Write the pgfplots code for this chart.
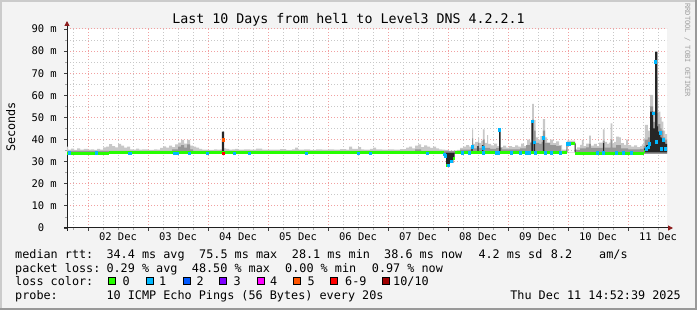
\documentclass[border=0pt]{standalone}
\usepackage{fontspec}
\setmainfont{DejaVu Sans Mono}
\usepackage{pgfplots}
\pgfplotsset{compat=1.18}
\usetikzlibrary{arrows.meta}
\definecolor{bgc}{HTML}{F3F3F3}
\definecolor{shadeA}{HTML}{CBCBCB}
\definecolor{shadeB}{HTML}{999999}
\definecolor{gridc}{HTML}{C8C8C8}
\definecolor{mgridc}{HTML}{F2A0A0}
\definecolor{axisc}{HTML}{202020}
\definecolor{arrowc}{HTML}{8C1C1C}
\definecolor{smokeL}{HTML}{C8C8C8}
\definecolor{smokeD}{HTML}{969696}
\definecolor{smokeB}{HTML}{262626}
\definecolor{wmark}{HTML}{A0A0A0}
\definecolor{lossA}{HTML}{26FF00}
\definecolor{lossB}{HTML}{00B8FF}
\definecolor{lossC}{HTML}{0059FF}
\definecolor{lossD}{HTML}{7E00FF}
\definecolor{lossE}{HTML}{FF00FF}
\definecolor{lossF}{HTML}{FF5500}
\definecolor{lossG}{HTML}{FF0000}
\definecolor{lossH}{HTML}{A00000}
\newcommand\tickfont{\fontsize{10.5bp}{12bp}\selectfont}
\newcommand\legfont{\fontsize{11.8bp}{14bp}\selectfont}
\newcommand\titfont{\fontsize{13.3bp}{16bp}\selectfont}
\newcommand\wmfont{\fontsize{7.1bp}{8bp}\selectfont}
\begin{document}
\frenchspacing
\begin{tikzpicture}
% background and frame
\fill[bgc] (0,0) rectangle (697bp,310bp);
\fill[shadeA] (0,2bp) rectangle (2bp,310bp);
\fill[shadeA] (0,308bp) rectangle (695bp,310bp);
\fill[shadeB] (0,0) rectangle (697bp,2bp);
\fill[shadeB] (695bp,0) rectangle (697bp,310bp);

\begin{axis}[
  at={(67bp,82bp)}, anchor=south west,
  scale only axis, width=600bp, height=199bp,
  xmin=1.65, xmax=11.65, ymin=0, ymax=90,
  axis lines=left,
  axis line style={draw=axisc, line width=1bp},
  x axis line style={-{Triangle[length=5bp,width=5bp,color=arrowc,fill=arrowc]}, shorten >=-6bp, shorten <=-3bp},
  y axis line style={-{Triangle[length=5bp,width=5bp,color=arrowc,fill=arrowc]}, shorten >=-8bp, shorten <=-3bp},
  tick align=outside,
  major tick length=3bp, minor tick length=2bp,
  tick style={line width=0.8bp, draw=black!75},
  minor tick style={draw=black!35},
  xtick={2,...,11}, xticklabels={},
  minor xtick={1.75,2,...,11.5},
  extra x ticks={2.5,3.5,...,11.5},
  extra x tick labels={02 Dec,03 Dec,04 Dec,05 Dec,06 Dec,07 Dec,08 Dec,09 Dec,10 Dec,11 Dec},
  extra x tick style={grid=none, major tick length=0pt},
  ytick={0,10,...,90},
  yticklabels={0\hphantom{\ m},10 m,20 m,30 m,40 m,50 m,60 m,70 m,80 m,90 m},
  minor ytick={5,15,...,85},
  xmajorgrids, xminorgrids, ymajorgrids, yminorgrids,
  major grid style={draw=mgridc, dash pattern=on 1bp off 2bp, line width=1bp},
  minor grid style={draw=gridc, dash pattern=on 1bp off 2bp, line width=1bp},
  /pgf/number format/assume math mode=true,
  xticklabel style={font=\tickfont, anchor=base, yshift=-13bp, inner sep=0pt},
  yticklabel style={font=\tickfont, anchor=east, xshift=-7bp, inner sep=0pt},
  axis background/.style={fill=white},
  unbounded coords=jump,
]
% light smoke
\addplot[const plot, fill=smokeL, draw=none] coordinates {
(1.65,36.8) (1.67,35.5) (1.72,35.9) (1.77,35.3) (1.82,36.0) (1.87,35.4) (1.93,35.8) (2.0,35.4) (2.05,35.6) (2.1,35.3)
(2.15,35.8) (2.2,35.4) (2.25,36.5) (2.3,36.8) (2.35,37.9) (2.4,37.0) (2.45,36.5) (2.5,38.0) (2.55,37.2) (2.6,36.4)
(2.65,36.8) (2.7,35.6) (2.75,35.4) (2.8,35.9) (2.85,35.4) (2.9,35.6) (3.0,35.3) (3.1,35.6) (3.15,35.4) (3.2,36.2)
(3.25,36.9) (3.3,36.4) (3.35,37.2) (3.4,36.6) (3.45,37.8) (3.5,38.6) (3.55,39.8) (3.6,38.2) (3.65,39.9) (3.7,37.3)
(3.75,36.8) (3.8,36.4) (3.85,35.8) (3.9,35.5) (4.0,35.3) (4.1,35.6) (4.15,35.4) (4.2,35.6) (4.25,36.0) (4.3,35.8)
(4.35,35.4) (4.4,35.6) (4.45,35.8) (4.5,35.4) (4.6,35.6) (4.7,35.5) (4.8,35.9) (4.9,35.4) (5.0,35.5) (5.1,35.4)
(5.2,35.7) (5.3,35.3) (5.4,35.6) (5.45,36.3) (5.5,35.5) (5.6,35.6) (5.7,35.3) (5.8,35.6) (5.9,35.4) (6.0,35.6)
(6.1,35.4) (6.2,35.7) (6.3,35.4) (6.35,36.8) (6.4,35.8) (6.5,36.6) (6.55,35.6) (6.6,35.4) (6.7,35.8) (6.75,36.3)
(6.8,35.6) (6.9,35.4) (7.0,35.6) (7.1,35.4) (7.2,35.7) (7.3,36.3) (7.35,36.8) (7.4,36.0) (7.45,37.2) (7.5,37.8)
(7.55,36.6) (7.6,37.4) (7.65,36.8) (7.7,36.2) (7.75,36.8) (7.8,36.0) (7.85,35.6) (7.9,35.4) (7.95,35.3) (8.0,34.8)
(8.1,35.0) (8.15,35.3) (8.2,36.2) (8.25,36.8) (8.3,37.5) (8.35,36.8) (8.4,44.6) (8.42,38.0) (8.45,39.0) (8.5,40.7)
(8.52,38.5) (8.55,39.5) (8.58,44.6) (8.61,38.5) (8.65,42.0) (8.67,38.0) (8.72,37.4) (8.77,38.2) (8.82,37.0) (8.87,36.6)
(8.92,37.2) (8.97,36.4) (9.02,37.0) (9.07,36.6) (9.12,37.4) (9.17,36.8) (9.22,38.2) (9.27,37.0) (9.32,40.0) (9.37,39.0)
(9.40,56.1) (9.43,48.8) (9.46,41.0) (9.5,40.0) (9.54,41.5) (9.58,49.2) (9.62,41.0) (9.65,38.6) (9.7,40.0) (9.75,38.4)
(9.8,39.2) (9.85,37.5) (9.9,35.4) (9.98,39.5) (10.12,35.8) (10.15,36.5) (10.2,37.6) (10.23,39.8) (10.26,37.0) (10.3,38.2)
(10.35,41.8) (10.38,37.2) (10.43,38.0) (10.48,37.0) (10.52,38.6) (10.58,44.6) (10.61,39.0) (10.65,38.0) (10.68,38.6) (10.71,47.3)
(10.74,38.2) (10.77,39.0) (10.8,41.3) (10.85,41.0) (10.88,38.4) (10.93,37.6) (10.97,40.0) (11.0,37.5) (11.05,36.8) (11.1,37.4)
(11.15,36.6) (11.2,37.0) (11.23,37.8) (11.26,40.5) (11.28,46.6) (11.33,44.0) (11.37,60.2) (11.42,53.0) (11.45,80.0) (11.49,60.0)
(11.5,52.6) (11.54,50.0) (11.56,48.1) (11.59,44.0) (11.62,42.4)
(11.65,33.5) (10.12,37.6) (9.98,33.5) (1.65,33.5)};
% dark smoke
\addplot[const plot, fill=smokeD, draw=none] coordinates {
(1.65,34.9) (3.4,35.6) (3.5,36.8) (3.55,37.5) (3.6,36.4) (3.65,37.8) (3.7,35.6) (3.75,34.9) (7.45,35.6) (7.55,34.9)
(8.2,35.4) (8.38,36.5) (8.4,40.5) (8.42,36.0) (8.48,37.0) (8.5,38.5) (8.52,36.2) (8.56,37.5) (8.58,40.0) (8.61,36.2)
(8.7,35.8) (8.8,36.2) (8.9,35.6) (9.2,36.0) (9.3,37.5) (9.37,38.5) (9.40,49.0) (9.43,44.0) (9.46,38.5) (9.52,38.0)
(9.56,39.0) (9.58,44.0) (9.62,38.5) (9.7,37.5) (9.8,37.0) (9.88,34.9) (9.98,38.8) (10.12,35.2) (10.2,36.0) (10.3,36.5)
(10.35,38.0) (10.38,36.2) (10.58,39.5) (10.61,36.4) (10.71,40.0) (10.74,36.4) (10.8,37.5) (10.88,36.0) (11.0,35.6) (11.2,35.8)
(11.26,37.0) (11.28,40.0) (11.33,41.0) (11.37,55.0) (11.42,48.0) (11.45,68.4) (11.49,52.0) (11.5,47.0) (11.54,45.0) (11.56,44.0)
(11.59,41.0) (11.62,40.0)
(11.65,33.5) (10.12,37.6) (9.98,33.5) (1.65,33.5)};
% darkest smoke
\addplot[const plot, fill=smokeB, draw=none] coordinates {
(1.65,34.2) (4.23,43.6) (4.27,34.2) (8.39,37.5) (8.41,34.2) (8.49,37.0) (8.51,34.2) (8.57,37.5) (8.59,34.2) (8.85,44.8)
(8.875,34.2) (9.39,48.8) (9.42,34.2) (9.43,39.0) (9.45,34.2) (9.58,41.6) (9.605,34.2) (9.975,38.3) (9.99,34.2) (10.11,38.3)
(10.125,34.2) (10.585,38.4) (10.6,34.2) (11.27,36.0) (11.3,37.5) (11.33,36.5) (11.37,52.6) (11.42,45.0) (11.45,79.7) (11.49,46.0)
(11.5,43.6) (11.54,41.0) (11.56,40.5) (11.59,39.0) (11.62,38.0)
(11.65,34.2) (1.65,34.2)};
% dip
\addplot[sharp plot, fill=smokeB, draw=none] coordinates {
(7.97,34) (7.97,27.7) (8.03,27.7) (8.03,29.4) (8.09,29.4) (8.09,31.0) (8.11,31.0) (8.11,34)};
% median rtt (loss 0)
\addplot[jump mark left, draw=lossA, line width=3bp] coordinates {
(1.65,33.8) (2.35,34.1) (2.7,34.0) (7.93,33.2) (7.97,28.4) (8.03,30.0) (8.09,31.5) (8.11,34.0) (9.98,38.3) (10.12,33.9)
(11.27,34.6) (11.29,34.6)};
% median rtt (loss 1)
\addplot[only marks, mark=square*, mark size=1bp, mark options={draw=lossB, fill=lossB, yscale=1.4}] coordinates {
(1.68,33.9) (2.13,33.9) (2.68,33.8) (2.70,33.8) (3.43,33.8) (3.48,33.8) (3.68,33.8) (3.98,33.8) (4.43,33.8) (4.68,33.8)
(5.63,33.8) (6.51,33.8) (6.70,33.8) (7.65,33.8) (7.94,33.4) (7.96,32.6) (8.00,28.4) (8.06,30.2) (8.23,33.9) (8.35,33.9)
(8.40,36.6) (8.58,36.4) (8.59,33.9) (8.80,33.9) (8.83,33.9) (8.86,44.3) (9.05,33.9) (9.20,33.9) (9.30,33.9) (9.35,33.9)
(9.40,48.3) (9.43,38.8) (9.45,33.9) (9.59,41.0) (9.62,33.9) (9.72,33.9) (9.87,33.9) (9.99,38.3) (10.02,38.3) (10.48,33.9)
(10.59,33.9) (10.81,33.9) (10.92,33.9) (11.05,33.9) (11.30,35.8) (11.33,36.5) (11.35,38.0) (11.42,51.9) (11.46,75.2) (11.47,39.0)
(11.53,43.0) (11.56,36.0) (11.59,39.8) (11.62,36.0)};
% median rtt (loss 5, 6-9)
\addplot[only marks, mark=square*, mark size=1bp, mark options={draw=lossF, fill=lossF, yscale=1.4}] coordinates {(4.25,40.0)};
\addplot[only marks, mark=square*, mark size=1bp, mark options={draw=lossG, fill=lossG, yscale=1.4}] coordinates {(4.26,33.8)};
\end{axis}

% title, y label, watermark
\node[font=\titfont, anchor=base, inner sep=0pt] at (348.5bp,286bp) {Last 10 Days from hel1 to Level3 DNS 4.2.2.1};
\node[font=\legfont, rotate=90, anchor=base, inner sep=0pt] at (15bp,183bp) {Seconds};
\node[font=\wmfont, text=wmark, rotate=-90, anchor=west, inner sep=0pt] at (687.5bp,307bp) {RRDTOOL / TOBI OETIKER};

% legend lines
\begin{scope}[every node/.style={font=\legfont, anchor=base west, inner sep=0pt}]
\node at (15bp,51.7bp) {median rtt:};
\node at (106.3bp,51.7bp) {34.4 ms avg};
\node at (199bp,51.7bp) {75.5 ms max};
\node at (291.7bp,51.7bp) {28.1 ms min};
\node at (384bp,51.7bp) {38.6 ms now};
\node at (478.3bp,51.7bp) {4.2 ms sd};
\node at (550.7bp,51.7bp) {8.2};
\node at (599bp,51.7bp) {am/s};
\node at (15bp,37.7bp) {packet loss:};
\node at (106.3bp,37.7bp) {0.29 \% avg};
\node at (191.7bp,37.7bp) {48.50 \% max};
\node at (285bp,37.7bp) {0.00 \% min};
\node at (371.7bp,37.7bp) {0.97 \% now};
\node at (15bp,24.3bp) {loss color:};
\node at (122.3bp,24.3bp) {0};
\node at (159bp,24.3bp) {1};
\node at (196.3bp,24.3bp) {2};
\node at (233.3bp,24.3bp) {3};
\node at (270bp,24.3bp) {4};
\node at (307.3bp,24.3bp) {5};
\node at (345bp,24.3bp) {6-9};
\node at (393bp,24.3bp) {10/10};
\node at (15bp,10.5bp) {probe:};
\node at (106.3bp,10.5bp) {10 ICMP Echo Pings (56 Bytes) every 20s};
\node[anchor=base east] at (681bp,10.5bp) {Thu Dec 11 14:52:39 2025};
\end{scope}
\begin{scope}[line width=0.8bp]
\filldraw[fill=lossA, draw=black] (108.7bp,25.4bp) rectangle +(7bp,7bp);
\filldraw[fill=lossB, draw=black] (146.1bp,25.4bp) rectangle +(7bp,7bp);
\filldraw[fill=lossC, draw=black] (183.1bp,25.4bp) rectangle +(7bp,7bp);
\filldraw[fill=lossD, draw=black] (219.7bp,25.4bp) rectangle +(7bp,7bp);
\filldraw[fill=lossE, draw=black] (257.1bp,25.4bp) rectangle +(7bp,7bp);
\filldraw[fill=lossF, draw=black] (293.1bp,25.4bp) rectangle +(7bp,7bp);
\filldraw[fill=lossG, draw=black] (330.4bp,25.4bp) rectangle +(7bp,7bp);
\filldraw[fill=lossH, draw=black] (382.1bp,25.4bp) rectangle +(7bp,7bp);
\end{scope}
\end{tikzpicture}
\end{document}
